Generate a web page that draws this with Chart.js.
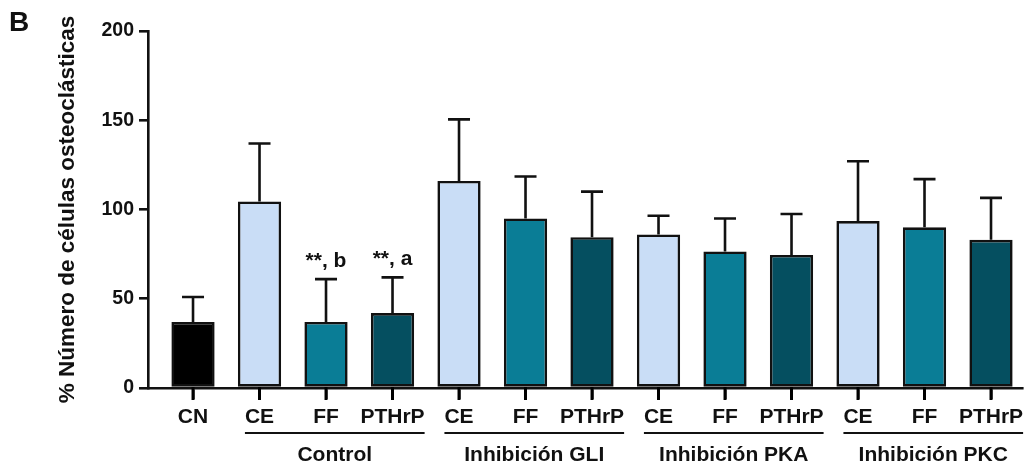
<!DOCTYPE html>
<html>
<head>
<meta charset="utf-8">
<script src="https://cdn.jsdelivr.net/npm/chart.js@4.4.1/dist/chart.umd.min.js"></script>
<style>
  html, body { margin: 0; padding: 0; background: #fff; }
  #wrap { width: 1025px; height: 466px; position: relative; }
</style>
</head>
<body>
<div id="wrap"><canvas id="chart"></canvas></div>
<script>
// datos
const labels = ['CN', 'CE', 'FF', 'PTHrP', 'CE', 'FF', 'PTHrP', 'CE', 'FF', 'PTHrP', 'CE', 'FF', 'PTHrP'];
const means = [37, 104.5, 37, 42, 116, 95, 84.5, 86, 76.5, 74.5, 93.5, 90, 83];
const errors = [14, 32.5, 24, 20, 34.5, 23.5, 25.5, 10.5, 18.5, 23, 33.5, 27, 23.5];
const notes = ['', '', '**, b', '**, a', '', '', '', '', '', '', '', '', ''];
const groupNames = ['Control', 'Inhibición GLI', 'Inhibición PKA', 'Inhibición PKC'];
const groupFirst = [1, 4, 7, 10];
const groupLast = [3, 6, 9, 12];
const yTicks = [0, 50, 100, 150, 200];

const colorOf = { CN: '#000000', CE: '#c9ddf6', FF: '#0a7d96', PTHrP: '#054f60' };
const FONT = '"Liberation Sans", Arial, sans-serif';

// barras de error, anotaciones, grupos y la letra del panel
const extras = {
    id: 'extras',
    afterDatasetsDraw(chart) {
        const ctx = chart.ctx;
        const y = chart.scales.y;
        const bars = chart.getDatasetMeta(0).data;
        ctx.save();
        ctx.strokeStyle = '#111';
        ctx.lineWidth = 2.6;
        ctx.fillStyle = '#111';
        ctx.font = 'bold 21px ' + FONT;
        ctx.textAlign = 'center';
        ctx.textBaseline = 'alphabetic';
        bars.forEach((bar, i) => {
            const top = y.getPixelForValue(means[i] + errors[i]);
            ctx.beginPath();
            ctx.moveTo(bar.x, bar.y);
            ctx.lineTo(bar.x, top);
            ctx.moveTo(bar.x - 11, top);
            ctx.lineTo(bar.x + 11, top);
            ctx.stroke();
            if (notes[i]) ctx.fillText(notes[i], bar.x, top - 12);
        });
        ctx.restore();
    },
    afterDraw(chart) {
        const ctx = chart.ctx;
        const x = chart.scales.x;
        const base = chart.scales.y.getPixelForValue(0);
        ctx.save();
        ctx.strokeStyle = '#000';
        ctx.fillStyle = '#111';
        // marcas del eje x bajo cada barra
        ctx.lineWidth = 3;
        chart.getDatasetMeta(0).data.forEach(bar => {
            ctx.beginPath();
            ctx.moveTo(bar.x, base - 1);
            ctx.lineTo(bar.x, base + 12);
            ctx.stroke();
        });
        ctx.strokeStyle = '#111';
        ctx.font = 'bold 21px ' + FONT;
        ctx.lineWidth = 2;
        ctx.textAlign = 'center';
        ctx.textBaseline = 'middle';
        groupNames.forEach((name, g) => {
            const a = x.getPixelForValue(groupFirst[g]) - ctx.measureText(labels[groupFirst[g]]).width / 2;
            const b = x.getPixelForValue(groupLast[g]) + ctx.measureText(labels[groupLast[g]]).width / 2;
            ctx.beginPath();
            ctx.moveTo(a, 433);
            ctx.lineTo(Math.min(b, chart.width), 433);
            ctx.stroke();
            ctx.fillText(name, (a + b) / 2, 455);
        });
        ctx.font = 'bold 28px ' + FONT;
        ctx.fillText('B', 19, 23);
        ctx.restore();
    }
};

new Chart(document.getElementById('chart'), {
    type: 'bar',
    data: {
        datasets: [{
            data: means.map((v, i) => ({ x: i, y: v })),
            backgroundColor: labels.map(l => colorOf[l]),
            borderColor: '#111',
            borderWidth: 2.6,
            borderSkipped: false,
            barPercentage: 0.65,
            categoryPercentage: 1
        }]
    },
    options: {
        responsive: true,
        maintainAspectRatio: false,
        animation: false,
        layout: { padding: { left: 0, top: 31, right: 3, bottom: 0 } },
        plugins: { legend: { display: false }, tooltip: { enabled: false } },
        scales: {
            x: {
                type: 'linear',
                offset: false,
                min: -0.677,
                max: 12.466,
                afterBuildTicks: s => { s.ticks = labels.map((_, i) => ({ value: i })); },
                afterFit: s => { s.height = 78; s.paddingLeft = 0; s.paddingRight = 0; },
                grid: { offset: false, drawOnChartArea: false, drawTicks: true, tickLength: 11, color: '#111', lineWidth: 2.6 },
                border: { color: '#111', width: 2.6 },
                ticks: {
                    callback: v => labels[v],
                    color: '#111',
                    font: { family: FONT, size: 21, weight: 'bold' },
                    padding: 6,
                    maxRotation: 0,
                    autoSkip: false
                }
            },
            y: {
                min: 0,
                max: 200,
                afterBuildTicks: s => { s.ticks = yTicks.map(v => ({ value: v })); },
                afterFit: s => { s.width = 148; },
                grid: { drawOnChartArea: false, drawTicks: true, tickLength: 9, color: '#111', lineWidth: 2.6 },
                border: { color: '#111', width: 2.6 },
                ticks: {
                    color: '#111',
                    font: { family: FONT, size: 19.5, weight: 'bold' },
                    padding: 5
                },
                title: {
                    display: true,
                    text: '% Número de células osteoclásticas',
                    color: '#111',
                    font: { family: FONT, size: 22.5, weight: 'bold' },
                    padding: { top: 54, bottom: 0 }
                }
            }
        }
    },
    plugins: [extras]
});
</script>
</body>
</html>
